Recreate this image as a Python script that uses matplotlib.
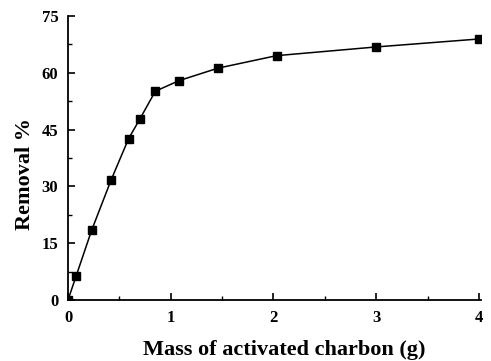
import matplotlib
matplotlib.use("Agg")
import matplotlib.pyplot as plt
from matplotlib.ticker import MultipleLocator

mass = [0.0, 0.08, 0.23, 0.42, 0.59, 0.70, 0.85, 1.08, 1.46, 2.03, 3.0, 4.0]
removal = [0.0, 6.4, 18.4, 31.7, 42.6, 47.8, 55.1, 57.9, 61.2, 64.5, 66.8, 68.9]
xticks = [0, 1, 2, 3, 4]
yticks = [0, 15, 30, 45, 60, 75]

plt.rcParams['font.family'] = ['Liberation Serif', 'DejaVu Serif']
plt.rcParams['font.weight'] = 'bold'

fig = plt.figure(figsize=(4.91, 3.61), dpi=100)
ax = fig.add_axes([0.1385, 0.169, 0.841, 0.787])
ax.plot(mass, removal, color='black', lw=1.1, marker='s', markersize=6,
        markerfacecolor='black', markeredgecolor='black')
ax.set_xlim(0, 4.02)
ax.set_ylim(0, 75)
ax.set_xticks(xticks)
ax.set_yticks(yticks)
ax.xaxis.set_minor_locator(MultipleLocator(0.5))
ax.yaxis.set_minor_locator(MultipleLocator(7.5))
for s in ['top', 'right']:
    ax.spines[s].set_visible(False)
for s in ['left', 'bottom']:
    ax.spines[s].set_linewidth(1.3)
ax.tick_params(which='major', direction='in', length=5, width=1.2, labelsize=12, pad=7)
ax.tick_params(which='minor', direction='in', length=3, width=1.0)
for lab in ax.get_xticklabels() + ax.get_yticklabels():
    lab.set_fontweight('bold')
ax.set_xlabel('Mass of activated charbon (g)', fontsize=16, fontweight='bold', labelpad=10)
ax.set_ylabel('Removal %', fontsize=16, fontweight='bold', labelpad=5)
ax.xaxis.label.set_x(0.523)
ax.yaxis.label.set_y(0.444)
fig.savefig('out.png', dpi=100)
